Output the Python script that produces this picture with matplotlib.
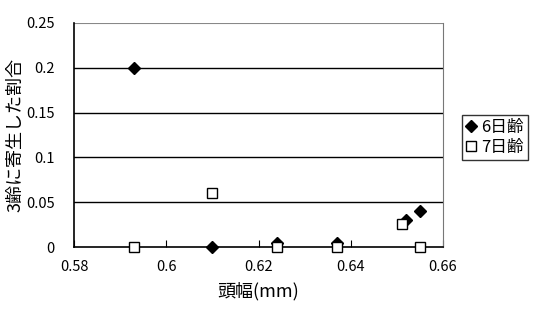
import matplotlib
matplotlib.use("Agg")
import matplotlib.pyplot as plt

plt.rcParams['font.family'] = ['Noto Sans CJK JP', 'DejaVu Sans']

# head width (mm) vs proportion parasitised at 3rd instar
x_day6 = [0.593, 0.610, 0.624, 0.637, 0.652, 0.655]
y_day6 = [0.200, 0.000, 0.004, 0.004, 0.030, 0.040]
x_day7 = [0.593, 0.610, 0.624, 0.637, 0.651, 0.655]
y_day7 = [0.000, 0.060, 0.000, 0.000, 0.026, 0.000]

xticks = [0.58, 0.60, 0.62, 0.64, 0.66]
xtick_labels = ["0.58", "0.6", "0.62", "0.64", "0.66"]
yticks = [0, 0.05, 0.10, 0.15, 0.20, 0.25]
ytick_labels = ["0", "0.05", "0.1", "0.15", "0.2", "0.25"]

fig = plt.figure(figsize=(5.38, 3.09), dpi=100)
ax = fig.add_axes([0.1375, 0.2006, 0.686, 0.725])

for yv in yticks[1:-1]:
    ax.axhline(yv, color='black', lw=1.0, zorder=1)
ax.axhline(0.25, color='#888888', lw=0.8, zorder=1)

ax.plot(x_day6, y_day6, linestyle='none', marker='D', ms=6.5, color='black',
        label='6日齢', zorder=3, clip_on=False)
ax.plot(x_day7, y_day7, linestyle='none', marker='s', ms=7.5, mfc='white',
        mec='black', mew=1.0, label='7日齢', zorder=4, clip_on=False)

ax.set_xlim(0.58, 0.66)
ax.set_ylim(0, 0.25)
ax.set_xticks(xticks)
ax.set_xticklabels(xtick_labels)
ax.set_yticks(yticks)
ax.set_yticklabels(ytick_labels)
ax.tick_params(axis='x', direction='in', length=5, labelsize=10.5, pad=9, color='black')
ax.tick_params(axis='y', length=0, labelsize=10.5, pad=14)

ax.spines['top'].set_visible(False)
ax.spines['right'].set_color('#777777')
ax.spines['right'].set_linewidth(0.8)
ax.spines['left'].set_linewidth(1.2)
ax.spines['bottom'].set_linewidth(1.2)

ax.set_xlabel('頭幅(mm)', fontsize=13, labelpad=6)
ax.set_ylabel('3齢に寄生した割合', fontsize=13, labelpad=1)

leg = fig.legend(loc='center left', bbox_to_anchor=(0.859, 0.555), fontsize=12,
                 frameon=True, fancybox=False, edgecolor='black',
                 handlelength=0.6, handletextpad=0.3, borderpad=0.25,
                 labelspacing=0.2, borderaxespad=0)
leg.get_frame().set_linewidth(1.0)

fig.savefig('out.png', dpi=100)
